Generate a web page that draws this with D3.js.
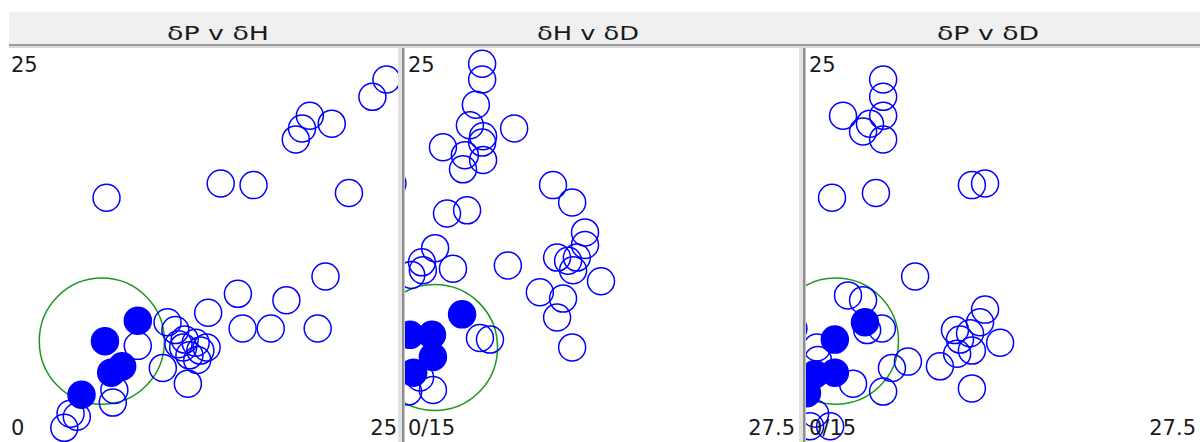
<!DOCTYPE html>
<html>
<head>
<meta charset="utf-8">
<script src="https://cdn.jsdelivr.net/npm/d3@7"></script>
<style>
body { margin: 0; background: #fff; }
svg { display: block; }
</style>
</head>
<body>
<div id="chart"></div>
<script>
var titles = ["δP v δH", "δH v δD", "δP v δD"];
var xDomains = [[0, 25], [15, 27.5], [15, 27.5]];
var yDomain = [0, 25];
var topLabels = ["25", "25", "25"];
var leftLabels = ["0", "0/15", "0/15"];
var rightLabels = ["25", "27.5", "27.5"];

// sphere centre and radius (δD, δP, δH, R0)
var sphereD = 15.95, sphereP = 6.4, sphereH = 6.0, sphereR = 4.0;

// panel 1: [δH, δP]
var badPH = [[24.2,23.0],[23.3,21.9],[19.3,20.7],[20.7,20.2],[18.8,19.9],[18.4,19.2],[21.8,15.8],
	[13.6,16.4],[15.7,16.3],[6.3,15.5],[20.3,10.5],[14.7,9.4],[17.8,9.0],[12.8,8.2],[15.0,7.2],
	[16.8,7.2],[19.8,7.2],[10.2,7.6],[10.7,7.1],[8.3,6.1],[11.3,6.5],[12.0,6.3],[12.3,5.8],
	[11.6,5.5],[11.2,6.0],[12.1,5.2],[12.7,6.0],[10.9,6.2],[9.9,4.7],[11.5,3.7],[6.8,3.3],
	[6.7,2.5],[4.0,1.8],[4.4,1.6],[3.6,0.9]];
var goodPH = [[8.3,7.7],[6.2,6.4],[6.6,4.4],[7.3,4.8],[4.7,3.0]];

// panel 2: [δD, δH]
var badHD = [[17.46,24.0],[17.46,23.0],[17.26,21.4],[17.07,20.1],[18.48,19.9],[17.49,19.4],[16.21,18.7],
	[16.91,18.2],[16.85,17.3],[17.46,19.0],[17.49,17.9],[19.72,16.3],[20.33,15.2],[16.34,14.5],
	[16.98,14.7],[20.74,13.3],[20.74,12.5],[15.96,12.3],[15.54,11.4],[15.57,10.9],[15.2,10.6],
	[16.53,11.0],[18.28,11.2],[19.85,11.7],[20.20,11.5],[20.48,11.7],[20.36,10.9],[21.25,10.2],
	[19.30,9.5],[20.04,9.1],[19.85,7.9],[20.33,6.0],[17.39,6.6],[17.71,6.5],[15.89,3.3],
	[15.10,3.2],[15.48,4.1],[14.6,16.4]];
var goodHD = [[16.82,8.1],[15.86,6.8],[15.89,5.4],[15.16,6.8],[15.26,4.4]];

// panel 3: [δD, δP]
var badPD = [[17.46,23.0],[17.46,21.9],[17.46,20.7],[16.18,20.7],[17.04,20.2],[16.82,19.7],[17.46,19.2],
	[15.83,15.5],[17.23,15.8],[20.29,16.3],[20.71,16.4],[18.48,10.5],[16.34,9.3],[16.82,9.0],
	[17.42,7.2],[16.95,7.1],[16.50,3.7],[15.35,6.0],[15.38,5.2],[17.46,3.2],[17.74,4.7],
	[18.25,5.1],[19.27,4.8],[19.75,7.1],[20.23,6.9],[20.71,8.4],[20.55,7.6],[21.19,6.3],
	[19.82,5.6],[20.29,5.8],[19.91,6.5],[20.29,3.4],[15.29,1.8],[15.77,1.0],[15.13,1.0]];
var goodPD = [[16.88,7.6],[15.92,6.5],[15.92,4.4],[15.29,4.3],[15.03,3.1],[14.6,7.2]];

var width = 1200,
	height = 442,
	plotTop = 48,
	plotBottom = 442,
	r = 13.5;

var panels = [
	{ left: 8, right: 399, titleX: 218, bad: badPH, good: goodPH, sx: sphereH, sy: sphereP, xHalf: false },
	{ left: 405, right: 797, titleX: 588, bad: badHD, good: goodHD, sx: sphereD, sy: sphereH, xHalf: true },
	{ left: 806, right: 1198, titleX: 988, bad: badPD, good: goodPD, sx: sphereD, sy: sphereP, xHalf: true }
];

var svg = d3.select("#chart")
	.append("svg")
	.attr("width", width)
	.attr("height", height);

// header strip
svg.append("rect").attr("x", 9).attr("y", 12).attr("width", width - 9).attr("height", 32).attr("fill", "#f0f0f0");
svg.append("rect").attr("x", 9).attr("y", 44).attr("width", width - 9).attr("height", 2).attr("fill", "#9d9d9d");
svg.append("rect").attr("x", 9).attr("y", 46).attr("width", width - 9).attr("height", 2).attr("fill", "#dadada");

var y = d3.scaleLinear().domain(yDomain).range([plotBottom, plotTop]);

panels.forEach(function(p, i) {
	var x = d3.scaleLinear().domain(xDomains[i]).range([p.left, p.right]);

	svg.append("text")
		.attr("x", p.titleX)
		.attr("y", 40)
		.attr("text-anchor", "middle")
		.attr("textLength", 102)
		.attr("lengthAdjust", "spacingAndGlyphs")
		.style("font-family", "'DejaVu Sans', sans-serif")
		.style("font-size", "20px")
		.style("fill", "#1a1a1a")
		.text(titles[i]);

	if (i > 0) {
		svg.append("rect").attr("x", p.left - 7).attr("y", plotTop).attr("width", 4).attr("height", plotBottom - plotTop).attr("fill", "#e2e2e2");
		svg.append("rect").attr("x", p.left - 3).attr("y", plotTop).attr("width", 2.5).attr("height", plotBottom - plotTop).attr("fill", "#8e8e8e");
	}

	svg.append("clipPath")
		.attr("id", "clip" + i)
		.append("rect")
		.attr("x", p.left)
		.attr("y", plotTop)
		.attr("width", p.right - p.left)
		.attr("height", plotBottom - plotTop);

	var g = svg.append("g").attr("clip-path", "url(#clip" + i + ")");

	// sphere: δD distances count double, so its δD half-width is R/2
	var rx = p.xHalf ? x(p.sx + sphereR / 2) - x(p.sx) : x(p.sx + sphereR) - x(p.sx);
	g.append("ellipse")
		.attr("cx", x(p.sx))
		.attr("cy", y(p.sy))
		.attr("rx", rx)
		.attr("ry", y(0) - y(sphereR))
		.attr("fill", "none")
		.attr("stroke", "#1f961f")
		.attr("stroke-width", 1.5);

	g.selectAll("circle.bad")
		.data(p.bad)
		.enter().append("circle")
		.attr("class", "bad")
		.attr("cx", function(d) { return x(d[0]); })
		.attr("cy", function(d) { return y(d[1]); })
		.attr("r", r)
		.attr("fill", "none")
		.attr("stroke", "#0000ff")
		.attr("stroke-width", 1.5);

	g.selectAll("circle.good")
		.data(p.good)
		.enter().append("circle")
		.attr("class", "good")
		.attr("cx", function(d) { return x(d[0]); })
		.attr("cy", function(d) { return y(d[1]); })
		.attr("r", r)
		.attr("fill", "#0000ff")
		.attr("stroke", "#0000ff")
		.attr("stroke-width", 1.5);

	var lab = svg.append("g")
		.style("font-family", "'DejaVu Sans', sans-serif")
		.style("font-size", "21px")
		.style("fill", "#1a1a1a");
	lab.append("text").attr("x", p.left + 3).attr("y", 72).text(topLabels[i]);
	lab.append("text").attr("x", p.left + 3).attr("y", 435).text(leftLabels[i]);
	lab.append("text").attr("x", p.right - 2).attr("y", 435).attr("text-anchor", "end").text(rightLabels[i]);
});
</script>
</body>
</html>
